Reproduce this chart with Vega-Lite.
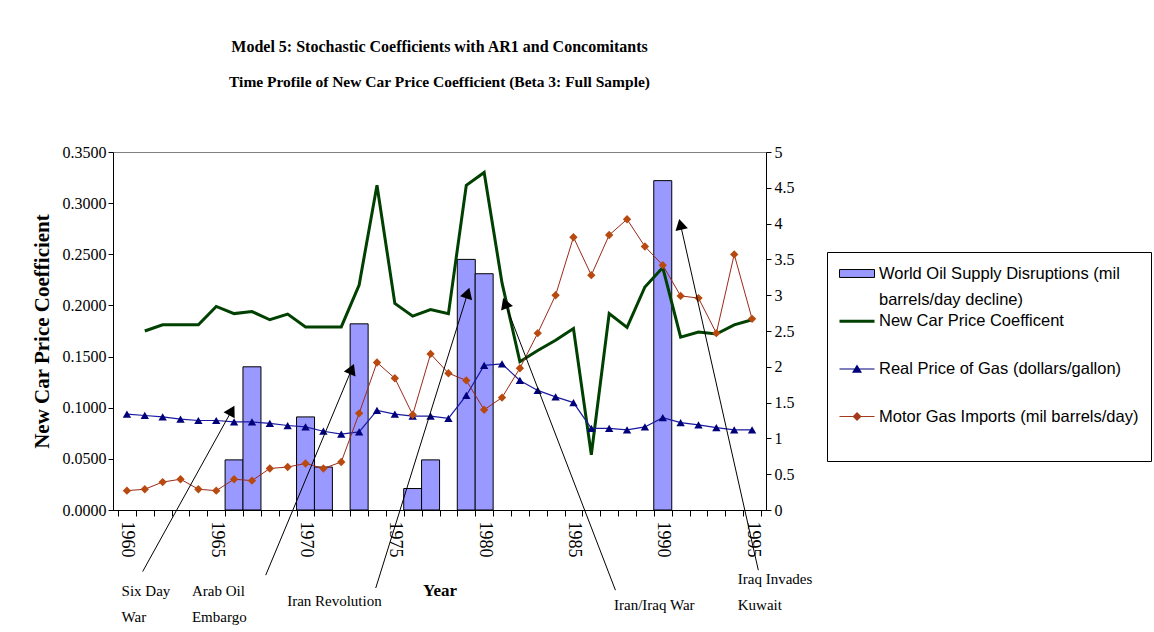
{
  "$schema": "https://vega.github.io/schema/vega-lite/v6.json",
  "autosize": {"type": "none"},
  "width": 653,
  "height": 358,
  "padding": {"left": 113, "top": 152, "right": 388, "bottom": 122},
  "background": "white",
  "title": {
    "text": "Model 5: Stochastic Coefficients with AR1 and Concomitants",
    "subtitle": "Time Profile of New Car Price Coefficient (Beta 3: Full Sample)",
    "font": "Liberation Serif",
    "fontSize": 16,
    "fontWeight": "bold",
    "color": "black",
    "subtitleFont": "Liberation Serif",
    "subtitleFontSize": 15.5,
    "subtitleFontWeight": "bold",
    "subtitleColor": "black",
    "anchor": "middle",
    "frame": "group",
    "offset": 54,
    "subtitlePadding": 20
  },
  "datasets": {
    "disruptions": [
      {"year": 1966, "value": 0.7}, {"year": 1967, "value": 2.0}, {"year": 1970, "value": 1.3},
      {"year": 1971, "value": 0.6}, {"year": 1973, "value": 2.6}, {"year": 1976, "value": 0.3},
      {"year": 1977, "value": 0.7}, {"year": 1979, "value": 3.5}, {"year": 1980, "value": 3.3},
      {"year": 1990, "value": 4.6}
    ],
    "coef": [
      {"year": 1961, "coef": 0.175}, {"year": 1962, "coef": 0.181}, {"year": 1963, "coef": 0.181},
      {"year": 1964, "coef": 0.181}, {"year": 1965, "coef": 0.199}, {"year": 1966, "coef": 0.192},
      {"year": 1967, "coef": 0.194}, {"year": 1968, "coef": 0.186}, {"year": 1969, "coef": 0.1915},
      {"year": 1970, "coef": 0.179}, {"year": 1971, "coef": 0.179}, {"year": 1972, "coef": 0.179},
      {"year": 1973, "coef": 0.220}, {"year": 1974, "coef": 0.3175}, {"year": 1975, "coef": 0.202},
      {"year": 1976, "coef": 0.1895}, {"year": 1977, "coef": 0.196}, {"year": 1978, "coef": 0.192},
      {"year": 1979, "coef": 0.3175}, {"year": 1980, "coef": 0.330}, {"year": 1981, "coef": 0.222},
      {"year": 1982, "coef": 0.145}, {"year": 1983, "coef": 0.156}, {"year": 1984, "coef": 0.166},
      {"year": 1985, "coef": 0.1775}, {"year": 1986, "coef": 0.054}, {"year": 1987, "coef": 0.192},
      {"year": 1988, "coef": 0.1785}, {"year": 1989, "coef": 0.218}, {"year": 1990, "coef": 0.237},
      {"year": 1991, "coef": 0.169}, {"year": 1992, "coef": 0.174}, {"year": 1993, "coef": 0.172},
      {"year": 1994, "coef": 0.181}, {"year": 1995, "coef": 0.186}
    ],
    "gas": [
      {"year": 1960, "price": 1.34}, {"year": 1961, "price": 1.32}, {"year": 1962, "price": 1.30},
      {"year": 1963, "price": 1.27}, {"year": 1964, "price": 1.25}, {"year": 1965, "price": 1.25},
      {"year": 1966, "price": 1.23}, {"year": 1967, "price": 1.23}, {"year": 1968, "price": 1.21},
      {"year": 1969, "price": 1.18}, {"year": 1970, "price": 1.16}, {"year": 1971, "price": 1.10},
      {"year": 1972, "price": 1.06}, {"year": 1973, "price": 1.09}, {"year": 1974, "price": 1.39},
      {"year": 1975, "price": 1.34}, {"year": 1976, "price": 1.31}, {"year": 1977, "price": 1.31},
      {"year": 1978, "price": 1.28}, {"year": 1979, "price": 1.60}, {"year": 1980, "price": 2.02},
      {"year": 1981, "price": 2.04}, {"year": 1982, "price": 1.81}, {"year": 1983, "price": 1.67},
      {"year": 1984, "price": 1.58}, {"year": 1985, "price": 1.50}, {"year": 1986, "price": 1.14},
      {"year": 1987, "price": 1.14}, {"year": 1988, "price": 1.12}, {"year": 1989, "price": 1.16},
      {"year": 1990, "price": 1.29}, {"year": 1991, "price": 1.22}, {"year": 1992, "price": 1.19},
      {"year": 1993, "price": 1.15}, {"year": 1994, "price": 1.12}, {"year": 1995, "price": 1.12}
    ],
    "imports": [
      {"year": 1960, "imports": 0.27}, {"year": 1961, "imports": 0.29}, {"year": 1962, "imports": 0.39},
      {"year": 1963, "imports": 0.43}, {"year": 1964, "imports": 0.29}, {"year": 1965, "imports": 0.27},
      {"year": 1966, "imports": 0.43}, {"year": 1967, "imports": 0.41}, {"year": 1968, "imports": 0.58},
      {"year": 1969, "imports": 0.60}, {"year": 1970, "imports": 0.65}, {"year": 1971, "imports": 0.58},
      {"year": 1972, "imports": 0.67}, {"year": 1973, "imports": 1.35}, {"year": 1974, "imports": 2.06},
      {"year": 1975, "imports": 1.84}, {"year": 1976, "imports": 1.33}, {"year": 1977, "imports": 2.18},
      {"year": 1978, "imports": 1.91}, {"year": 1979, "imports": 1.81}, {"year": 1980, "imports": 1.40},
      {"year": 1981, "imports": 1.57}, {"year": 1982, "imports": 1.98}, {"year": 1983, "imports": 2.47},
      {"year": 1984, "imports": 3.00}, {"year": 1985, "imports": 3.81}, {"year": 1986, "imports": 3.28},
      {"year": 1987, "imports": 3.84}, {"year": 1988, "imports": 4.06}, {"year": 1989, "imports": 3.68},
      {"year": 1990, "imports": 3.42}, {"year": 1991, "imports": 2.99}, {"year": 1992, "imports": 2.96},
      {"year": 1993, "imports": 2.47}, {"year": 1994, "imports": 3.57}, {"year": 1995, "imports": 2.67}
    ],
    "arrowLines": [
      {"event": "Six Day War", "year": 1960.88, "v": -0.86, "yearEnd": 1965.87, "vEnd": 1.39},
      {"event": "Arab Oil Embargo", "year": 1967.77, "v": -0.91, "yearEnd": 1972.59, "vEnd": 1.97},
      {"event": "Iran Revolution", "year": 1973.93, "v": -1.09, "yearEnd": 1979.08, "vEnd": 3.03},
      {"event": "Iran/Iraq War", "year": 1987.35, "v": -1.12, "yearEnd": 1981.17, "vEnd": 2.89},
      {"event": "Iraq Invades Kuwait", "year": 1995.35, "v": -0.84, "yearEnd": 1990.99, "vEnd": 3.99}
    ],
    "arrowHeads": [
      {"event": "Six Day War", "year": 1965.87, "v": 1.39},
      {"event": "Arab Oil Embargo", "year": 1972.59, "v": 1.97},
      {"event": "Iran Revolution", "year": 1979.08, "v": 3.03},
      {"event": "Iran/Iraq War", "year": 1981.17, "v": 2.89},
      {"event": "Iraq Invades Kuwait", "year": 1990.99, "v": 3.99}
    ],
    "eventLabels": [
      {"label": "Six Day\nWar", "year": 1959.7, "v": -1.2},
      {"label": "Arab Oil\nEmbargo", "year": 1963.64, "v": -1.2},
      {"label": "Iran Revolution", "year": 1968.97, "v": -1.34},
      {"label": "Iran/Iraq War", "year": 1987.27, "v": -1.395},
      {"label": "Iraq Invades\nKuwait", "year": 1994.2, "v": -1.03}
    ],
    "legendItems": [
      {"series": "World Oil Supply Disruptions (mil barrels/day decline)"},
      {"series": "New Car Price Coefficent"},
      {"series": "Real Price of Gas (dollars/gallon)"},
      {"series": "Motor Gas Imports (mil barrels/day)"}
    ]
  },
  "encoding": {
    "x": {
      "field": "year", "type": "quantitative",
      "scale": {"domain": [1959.5, 1995.5], "nice": false, "zero": false},
      "axis": {
        "values": [1959.5, 1960.5, 1961.5, 1962.5, 1963.5, 1964.5, 1965.5, 1966.5, 1967.5, 1968.5, 1969.5, 1970.5, 1971.5, 1972.5, 1973.5, 1974.5, 1975.5, 1976.5, 1977.5, 1978.5, 1979.5, 1980.5, 1981.5, 1982.5, 1983.5, 1984.5, 1985.5, 1986.5, 1987.5, 1988.5, 1989.5, 1990.5, 1991.5, 1992.5, 1993.5, 1994.5, 1995.5, 1960, 1965, 1970, 1975, 1980, 1985, 1990, 1995],
        "labelExpr": "datum.value % 5 === 0 ? '' + datum.value : ''",
        "labelOverlap": false,
        "labelFlush": false,
        "labelAngle": 90,
        "labelAlign": "left",
        "labelBaseline": "middle",
        "labelFont": "Liberation Serif",
        "labelFontSize": 18,
        "labelColor": "#000000",
        "labelPadding": 5,
        "tickSize": 6,
        "tickOpacity": {"condition": {"test": "datum.value % 5 === 0", "value": 0}, "value": 1},
        "title": "Year",
        "titleFont": "Liberation Serif",
        "titleFontSize": 17,
        "titleFontWeight": "bold",
        "titlePadding": 25
      }
    }
  },
  "layer": [
    {
      "data": {"name": "disruptions"},
      "mark": {"type": "bar", "orient": "vertical", "size": 18, "fill": "#9999FF", "stroke": "#000000", "strokeWidth": 1},
      "encoding": {
        "y": {
          "field": "value", "type": "quantitative",
          "scale": {"domain": [0, 5], "nice": false},
          "axis": {
            "orient": "right",
            "values": [0, 0.5, 1, 1.5, 2, 2.5, 3, 3.5, 4, 4.5, 5],
            "format": "~g",
            "labelFont": "Liberation Serif",
            "labelFontSize": 16,
            "tickSize": 5,
            "labelPadding": 3,
            "title": null
          }
        }
      }
    },
    {
      "data": {"name": "coef"},
      "mark": {"type": "line", "color": "#004000", "strokeWidth": 3},
      "encoding": {
        "y": {
          "field": "coef", "type": "quantitative",
          "scale": {"domain": [0, 0.35], "nice": false},
          "axis": {
            "orient": "left",
            "values": [0, 0.05, 0.1, 0.15, 0.2, 0.25, 0.3, 0.35],
            "format": ".4f",
            "labelFont": "Liberation Serif",
            "labelFontSize": 16,
            "tickSize": 5,
            "title": "New Car Price Coefficient",
            "titleFont": "Liberation Serif",
            "titleFontSize": 21,
            "titleFontWeight": "bold",
            "titlePadding": 10
          }
        }
      }
    },
    {
      "layer": [
        {
          "data": {"name": "gas"},
          "mark": {"type": "line", "color": "#1a1aa0", "strokeWidth": 1.2},
          "encoding": {
            "y": {"field": "price", "type": "quantitative", "scale": {"domain": [0, 5], "nice": false}, "axis": null}
          }
        },
        {
          "data": {"name": "gas"},
          "mark": {"type": "point", "shape": "triangle-up", "filled": true, "size": 70, "color": "#00007a", "opacity": 1},
          "encoding": {
            "y": {"field": "price", "type": "quantitative", "scale": {"domain": [0, 5], "nice": false}, "axis": null}
          }
        },
        {
          "data": {"name": "imports"},
          "mark": {"type": "line", "color": "#9a2a1a", "strokeWidth": 1},
          "encoding": {
            "y": {"field": "imports", "type": "quantitative", "scale": {"domain": [0, 5], "nice": false}, "axis": null}
          }
        },
        {
          "data": {"name": "imports"},
          "mark": {"type": "point", "shape": "diamond", "filled": true, "size": 70, "color": "#b84a10", "opacity": 1},
          "encoding": {
            "y": {"field": "imports", "type": "quantitative", "scale": {"domain": [0, 5], "nice": false}, "axis": null}
          }
        },
        {
          "data": {"name": "arrowLines"},
          "mark": {"type": "rule", "color": "#000000", "strokeWidth": 1},
          "encoding": {
            "x2": {"field": "yearEnd"},
            "y": {"field": "v", "type": "quantitative", "scale": {"domain": [0, 5], "nice": false}, "axis": null},
            "y2": {"field": "vEnd"}
          }
        },
        {
          "data": {"name": "arrowHeads"},
          "mark": {"type": "point", "shape": "triangle-up", "filled": true, "size": 160, "color": "#000000", "opacity": 1},
          "encoding": {
            "y": {"field": "v", "type": "quantitative", "scale": {"domain": [0, 5], "nice": false}, "axis": null},
            "angle": {
              "condition": [
                {"test": "datum.event === 'Six Day War'", "value": 29},
                {"test": "datum.event === 'Arab Oil Embargo'", "value": 23},
                {"test": "datum.event === 'Iran Revolution'", "value": 17.5},
                {"test": "datum.event === 'Iran/Iraq War'", "value": 339},
                {"test": "datum.event === 'Iraq Invades Kuwait'", "value": 347}
              ],
              "value": 0
            }
          }
        },
        {
          "data": {"name": "eventLabels"},
          "mark": {"type": "text", "align": "left", "baseline": "alphabetic", "lineBreak": "\n", "lineHeight": 26, "font": "Liberation Serif", "fontSize": 15, "color": "#000000"},
          "encoding": {
            "y": {"field": "v", "type": "quantitative", "scale": {"domain": [0, 5], "nice": false}, "axis": null},
            "text": {"field": "label"}
          }
        },
        {
          "data": {"name": "legendItems"},
          "mark": {"type": "point", "filled": true, "opacity": 0},
          "encoding": {
            "x": {"value": 0},
            "y": {"value": 0},
            "fill": {
              "field": "series", "type": "nominal",
              "scale": {
                "domain": ["World Oil Supply Disruptions (mil barrels/day decline)", "New Car Price Coefficent", "Real Price of Gas (dollars/gallon)", "Motor Gas Imports (mil barrels/day)"],
                "range": ["#9999FF", "#004000", "#00007a", "#a33a1a"]
              },
              "legend": {
                "title": " ", "titleOrient": "bottom", "titleFontSize": 16, "titlePadding": 8,
                "orient": "none", "legendX": 714, "legendY": 100,
                "gridAlign": "all", "rowPadding": 3.7, "padding": 12,
                "labelFont": "Liberation Sans", "labelFontSize": 16.5, "labelColor": "#000000", "labelLimit": 400, "labelOffset": 21,
                "labelExpr": "datum.label === 'World Oil Supply Disruptions (mil barrels/day decline)' ? ['World Oil Supply Disruptions (mil', 'barrels/day decline)'] : datum.label",
                "symbolSize": 324, "symbolStrokeWidth": 1, "symbolOpacity": 1,
                "strokeColor": "#000000", "fillColor": "#FFFFFF",
                "encode": {"labels": {"update": {"lineHeight": {"value": 26}}}, "symbols": {"update": {"opacity": {"value": 1}}}}
              }
            },
            "stroke": {
              "field": "series", "type": "nominal",
              "scale": {
                "domain": ["World Oil Supply Disruptions (mil barrels/day decline)", "New Car Price Coefficent", "Real Price of Gas (dollars/gallon)", "Motor Gas Imports (mil barrels/day)"],
                "range": ["#000000", "transparent", "transparent", "transparent"]
              },
              "legend": {
                "title": " ", "titleOrient": "bottom", "titleFontSize": 16, "titlePadding": 8,
                "orient": "none", "legendX": 714, "legendY": 100,
                "gridAlign": "all", "rowPadding": 3.7, "padding": 12,
                "labelFont": "Liberation Sans", "labelFontSize": 16.5, "labelColor": "#000000", "labelLimit": 400, "labelOffset": 21,
                "labelExpr": "datum.label === 'World Oil Supply Disruptions (mil barrels/day decline)' ? ['World Oil Supply Disruptions (mil', 'barrels/day decline)'] : datum.label",
                "symbolSize": 324, "symbolStrokeWidth": 1, "symbolOpacity": 1,
                "strokeColor": "#000000", "fillColor": "#FFFFFF",
                "encode": {"labels": {"update": {"lineHeight": {"value": 26}}}, "symbols": {"update": {"opacity": {"value": 1}}}}
              }
            },
            "shape": {
              "field": "series", "type": "nominal",
              "scale": {
                "domain": ["World Oil Supply Disruptions (mil barrels/day decline)", "New Car Price Coefficent", "Real Price of Gas (dollars/gallon)", "Motor Gas Imports (mil barrels/day)"],
                "range": [
                  "M-1,-0.44H2.89V0.44H-1Z",
                  "M-1,-0.167H2.89V0.167H-1Z",
                  "M-1,-0.056H2.89V0.056H-1Z M0.945,-0.5L1.5,0.44H0.39Z",
                  "M-1,-0.056H2.89V0.056H-1Z M0.945,-0.5L1.445,0L0.945,0.5L0.445,0Z"
                ]
              },
              "legend": {
                "title": " ", "titleOrient": "bottom", "titleFontSize": 16, "titlePadding": 8,
                "orient": "none", "legendX": 714, "legendY": 100,
                "gridAlign": "all", "rowPadding": 3.7, "padding": 12,
                "labelFont": "Liberation Sans", "labelFontSize": 16.5, "labelColor": "#000000", "labelLimit": 400, "labelOffset": 21,
                "labelExpr": "datum.label === 'World Oil Supply Disruptions (mil barrels/day decline)' ? ['World Oil Supply Disruptions (mil', 'barrels/day decline)'] : datum.label",
                "symbolSize": 324, "symbolStrokeWidth": 1, "symbolOpacity": 1,
                "strokeColor": "#000000", "fillColor": "#FFFFFF",
                "encode": {"labels": {"update": {"lineHeight": {"value": 26}}}, "symbols": {"update": {"opacity": {"value": 1}}}}
              }
            }
          }
        }
      ]
    }
  ],
  "resolve": {"scale": {"y": "independent"}},
  "config": {
    "view": {"stroke": "#808080", "strokeWidth": 1},
    "axis": {
      "labelFont": "Liberation Serif",
      "titleFont": "Liberation Serif",
      "labelColor": "#000000",
      "titleColor": "#000000",
      "domainColor": "#000000",
      "tickColor": "#000000",
      "domainWidth": 1,
      "tickWidth": 1,
      "grid": false
    }
  }
}
